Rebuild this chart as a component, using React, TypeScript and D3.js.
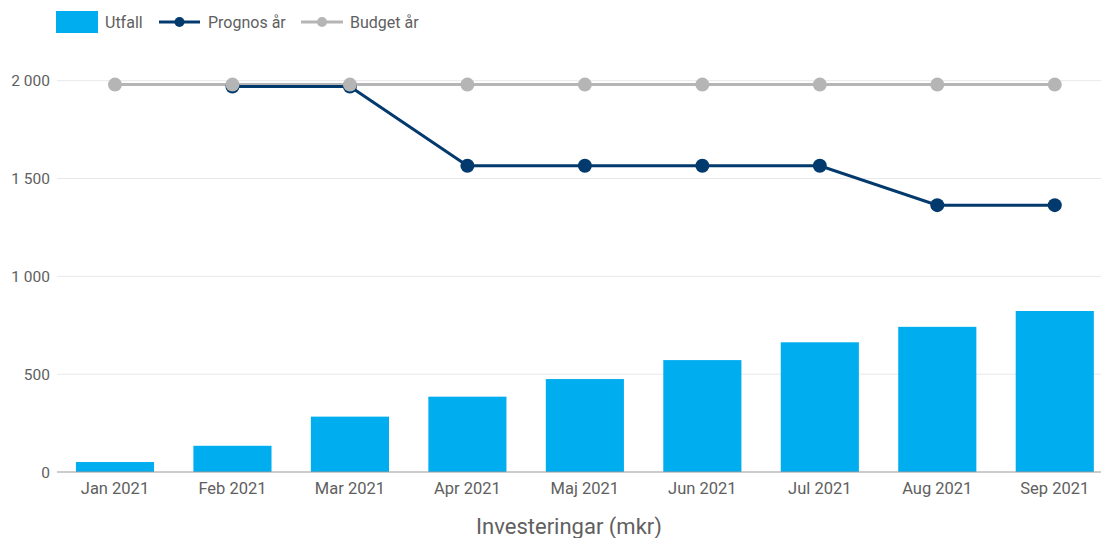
import React from "react";
import * as d3 from "d3";

const months = ["Jan 2021", "Feb 2021", "Mar 2021", "Apr 2021", "Maj 2021", "Jun 2021", "Jul 2021", "Aug 2021", "Sep 2021"];
const utfall = [51, 134, 283, 385, 475, 572, 663, 742, 823];
const prognos: (number | null)[] = [null, 1970, 1970, 1565, 1565, 1565, 1565, 1364, 1364];
const budget = [1980, 1980, 1980, 1980, 1980, 1980, 1980, 1980, 1980];
const yTicks = [0, 500, 1000, 1500, 2000];

const W = 1101;
const H = 538;
const FONT = "Roboto, 'Noto Sans', sans-serif";
const BAR = "#00adef";
const PROG = "#033a6e";
const BUD = "#b5b5b5";
const TXT = "#606060";

export default function App() {
  const x = d3.scaleBand<string>().domain(months).range([56.25, 1113.5]).paddingInner(0.335).paddingOuter(0.1675);
  const y = d3.scaleLinear().domain([0, 2000]).range([472, 80.7]);
  const cx = (m: string) => (x(m) as number) + x.bandwidth() / 2;
  const fmt = (v: number) => d3.format(",")(v).replace(/,/g, " ");

  const progPts = months.map((m, i) => ({ m, v: prognos[i] })).filter((d) => d.v !== null) as { m: string; v: number }[];
  const budPts = months.map((m, i) => ({ m, v: budget[i] }));
  const line = d3.line<{ m: string; v: number }>().x((d) => cx(d.m)).y((d) => y(d.v));

  return (
    <svg width={W} height={H} style={{ position: "absolute", left: 0, top: 0, background: "#fff" }} fontFamily={FONT}>
      {/* legend */}
      <rect x={56} y={11} width={42} height={22} fill={BAR} />
      <text x={105} y={27.5} fontSize={16} fill={TXT}>Utfall</text>
      <line x1={159} x2={200} y1={22} y2={22} stroke={PROG} strokeWidth={3} />
      <circle cx={179.5} cy={22} r={5} fill={PROG} />
      <text x={208} y={27.5} fontSize={16} fill={TXT}>Prognos år</text>
      <line x1={301} x2={343} y1={22} y2={22} stroke={BUD} strokeWidth={3} />
      <circle cx={322} cy={22} r={5} fill={BUD} />
      <text x={350} y={27.5} fontSize={16} fill={TXT}>Budget år</text>

      {/* grid */}
      {yTicks.map((t) => (
        <g key={t}>
          {t !== 0 && <line x1={57} x2={W} y1={y(t)} y2={y(t)} stroke="#e8e8ec" strokeWidth={1} />}
          <text x={50} y={y(t) + 5.5} fontSize={15.5} fill={TXT} textAnchor="end">{fmt(t)}</text>
        </g>
      ))}

      {/* bars */}
      {months.map((m, i) => (
        <rect key={m} x={x(m)} y={y(utfall[i])} width={x.bandwidth()} height={y(0) - y(utfall[i])} fill={BAR} />
      ))}
      <line x1={57} x2={W} y1={y(0)} y2={y(0)} stroke="#999" strokeWidth={1.2} />

      {/* budget */}
      <path d={line(budPts) || ""} fill="none" stroke={BUD} strokeWidth={3} />
      {/* prognos */}
      <path d={line(progPts) || ""} fill="none" stroke={PROG} strokeWidth={3} />
      {progPts.map((d) => (
        <circle key={"p" + d.m} cx={cx(d.m)} cy={y(d.v)} r={7} fill={PROG} />
      ))}
      {budPts.map((d) => (
        <circle key={"b" + d.m} cx={cx(d.m)} cy={y(d.v)} r={7} fill={BUD} />
      ))}

      {/* x labels */}
      {months.map((m) => (
        <text key={"l" + m} x={cx(m)} y={494} fontSize={16.5} fill={TXT} textAnchor="middle">{m}</text>
      ))}
      <text x={569} y={534} fontSize={22} fill={TXT} textAnchor="middle">Investeringar (mkr)</text>
    </svg>
  );
}
